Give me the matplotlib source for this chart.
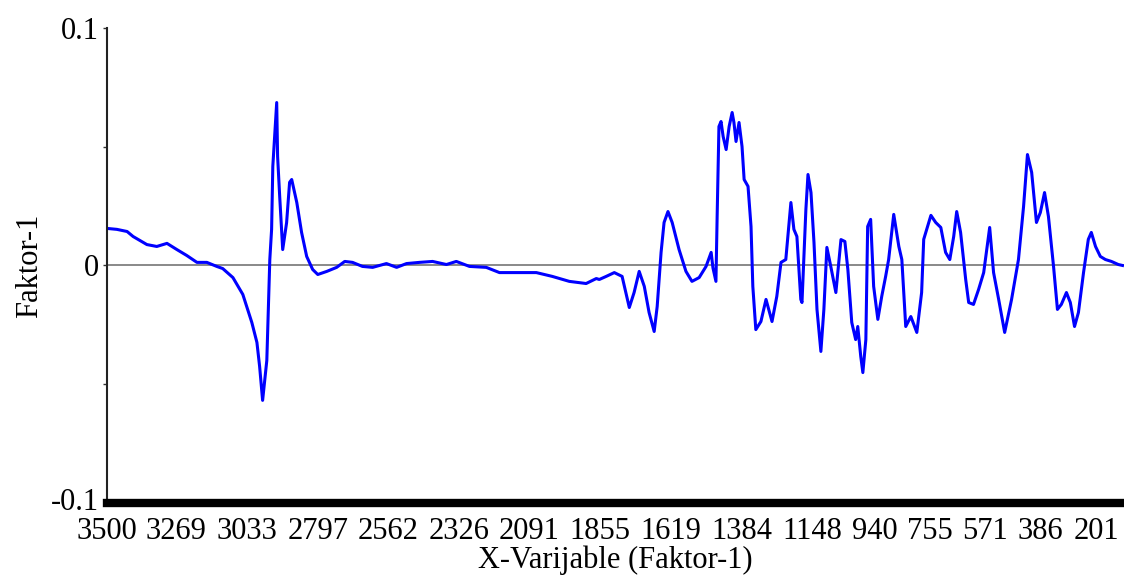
#!/usr/bin/env python3
"""Loading plot of factor 1 against the x-variables (wavenumber)."""

import matplotlib
matplotlib.use("Agg")
import matplotlib.pyplot as plt
from matplotlib.transforms import ScaledTranslation

# x-variable tick labels shown under the axis
TICK_VALUES = [3500, 3269, 3033, 2797, 2562, 2326, 2091, 1855,
               1619, 1384, 1148, 940, 755, 571, 386, 201]

# loading curve (wavenumber, loading)
wavenumber = [
    3500, 3467, 3433, 3413, 3367, 3334, 3300, 3267, 3234, 3200,
    3167, 3134, 3114, 3080, 3047, 3017, 3000, 2991, 2981, 2967,
    2957, 2951, 2947, 2934, 2931, 2924, 2914, 2901, 2891, 2884,
    2867, 2851, 2834, 2814, 2797, 2767, 2734, 2707, 2681, 2648,
    2614, 2568, 2534, 2501, 2458, 2414, 2368, 2335, 2291, 2235,
    2191, 2125, 2068, 2015, 1958, 1902, 1868, 1858, 1835, 1808,
    1782, 1758, 1742, 1725, 1708, 1692, 1675, 1665, 1652, 1642,
    1629, 1615, 1592, 1569, 1549, 1525, 1502, 1485, 1479, 1469,
    1465, 1459, 1452, 1445, 1435, 1425, 1415, 1409, 1402, 1392,
    1382, 1375, 1362, 1352, 1346, 1336, 1319, 1302, 1282, 1266,
    1252, 1236, 1219, 1209, 1199, 1186, 1182, 1169, 1162, 1152,
    1142, 1132, 1119, 1109, 1099, 1086, 1069, 1052, 1039, 1029,
    1016, 1003, 996, 986, 979, 969, 963, 953, 943, 929,
    916, 903, 893, 876, 859, 849, 836, 819, 799, 783,
    776, 752, 736, 719, 703, 689, 676, 666, 653, 636,
    626, 610, 593, 576, 556, 543, 526, 506, 483, 460,
    443, 430, 416, 400, 387, 373, 360, 343, 330, 317,
    300, 287, 273, 260, 243, 227, 217, 203, 187, 170,
    150, 127, 113,
]
loading = [
    0.0156, 0.0152, 0.0143, 0.0122, 0.0088, 0.0080, 0.0093, 0.0067, 0.0042, 0.0013,
    0.0013, -0.0004, -0.0013, -0.0051, -0.0122, -0.0240, -0.0324, -0.0425, -0.0568, -0.0400,
    0.0025, 0.0152, 0.0417, 0.0686, 0.0459, 0.0290, 0.0067, 0.0180, 0.0350, 0.0362,
    0.0265, 0.0139, 0.0038, -0.0017, -0.0038, -0.0025, -0.0008, 0.0017, 0.0013, -0.0004,
    -0.0008, 0.0008, -0.0008, 0.0008, 0.0013, 0.0017, 0.0004, 0.0017, -0.0004, -0.0008,
    -0.0030, -0.0030, -0.0030, -0.0046, -0.0067, -0.0076, -0.0055, -0.0059, -0.0046, -0.0030,
    -0.0046, -0.0177, -0.0114, -0.0025, -0.0088, -0.0198, -0.0278, -0.0173, 0.0055, 0.0181,
    0.0227, 0.0181, 0.0067, -0.0025, -0.0067, -0.0051, -0.0004, 0.0055, -0.0010, -0.0067,
    0.0206, 0.0585, 0.0606, 0.0543, 0.0488, 0.0585, 0.0644, 0.0602, 0.0522, 0.0602,
    0.0501, 0.0362, 0.0333, 0.0164, -0.0088, -0.0270, -0.0236, -0.0143, -0.0236, -0.0130,
    0.0013, 0.0025, 0.0265, 0.0152, 0.0122, -0.0143, -0.0156, 0.0236, 0.0383, 0.0307,
    0.0097, -0.0185, -0.0362, -0.0185, 0.0076, -0.0004, -0.0114, 0.0109, 0.0101, -0.0017,
    -0.0240, -0.0312, -0.0257, -0.0383, -0.0451, -0.0312, 0.0164, 0.0194, -0.0088, -0.0227,
    -0.0130, -0.0046, 0.0025, 0.0215, 0.0080, 0.0025, -0.0257, -0.0215, -0.0282, -0.0114,
    0.0110, 0.0211, 0.0181, 0.0160, 0.0055, 0.0025, 0.0122, 0.0227, 0.0139, -0.0059,
    -0.0156, -0.0164, -0.0101, -0.0030, 0.0160, -0.0030, -0.0143, -0.0282, -0.0143, 0.0025,
    0.0248, 0.0467, 0.0392, 0.0181, 0.0223, 0.0307, 0.0206, -0.0004, -0.0185, -0.0164,
    -0.0114, -0.0156, -0.0257, -0.0198, -0.0030, 0.0110, 0.0139, 0.0080, 0.0038, 0.0025,
    0.0017, 0.0004, 0.0000,
]

Y_TICKS = [-0.1, 0, 0.1]
Y_TICK_LABELS = ["-0.1", "0", "0.1"]

plt.rcParams["font.family"] = ["Liberation Serif", "DejaVu Serif"]
FS = 22

fig = plt.figure(figsize=(11.24, 5.8), dpi=100)
ax = fig.add_axes([0.0952, 0.1328, 0.9048, 0.819])

ax.axhline(0, color="#808080", linewidth=1.3, zorder=1)
ax.plot(wavenumber, loading, color="#0000FF", linewidth=2.2, zorder=2)

ax.set_xlim(3500, 108)
ax.set_ylim(-0.1, 0.1)

ax.set_xticks(TICK_VALUES)
ax.set_xticklabels([str(v) for v in TICK_VALUES], fontsize=FS)
ax.tick_params(axis="x", length=0, pad=10)

ax.set_yticks(Y_TICKS)
ax.set_yticklabels(Y_TICK_LABELS, fontsize=FS)
ax.set_yticks([-0.05, 0.05], minor=True)
ax.tick_params(axis="y", which="both", length=3, width=1, pad=3, color="#333333")

# nudge the bottom y label up a little so it clears the first x label
lbl = ax.get_yticklabels()[0]
lbl.set_transform(lbl.get_transform() + ScaledTranslation(0, 3 / 72, fig.dpi_scale_trans))

for side in ("top", "right"):
    ax.spines[side].set_visible(False)
ax.spines["left"].set_linewidth(1.5)
ax.spines["left"].set_color("#222222")
ax.spines["bottom"].set_linewidth(6)
ax.spines["bottom"].set_color("black")

ax.set_xlabel("X-Varijable (Faktor-1)", fontsize=FS, labelpad=0)
ax.set_ylabel("Faktor-1", fontsize=FS, labelpad=5)

fig.savefig("out.png", dpi=100)
